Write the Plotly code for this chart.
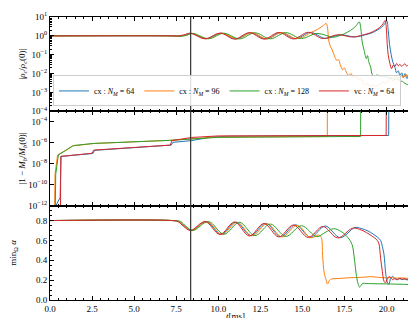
import plotly.graph_objects as go
from plotly.subplots import make_subplots

# ---------------- data ----------------
series_names = [
    "cx : <i>N</i><sub><i>M</i></sub> = 64",
    "cx : <i>N</i><sub><i>M</i></sub> = 96",
    "cx : <i>N</i><sub><i>M</i></sub> = 128",
    "vc : <i>N</i><sub><i>M</i></sub> = 64",
]
series_colors = ["#1f77b4", "#ff7f0e", "#2ca02c", "#d62728"]

t_marker = 8.36  # ms, vertical reference line
x_title = "<i>t</i>[ms]"

# |rho_c / rho_c(0)|
t_rho_cx64 = [0, 7.25, 7.65, 8.0, 8.4, 9.28, 10.17, 11.05, 11.94, 12.82, 13.71, 14.59, 15.48, 16.36, 17.25, 18.13, 18.7, 19.1, 19.45, 19.7, 19.9, 20.02, 20.1, 20.18, 20.28, 20.38, 20.5, 20.6, 20.7, 20.8, 20.9, 21.0, 21.1, 21.2, 21.3, 21.4, 21.5, 21.6, 21.7, 21.8, 21.9, 22.0]
rho_cx64 = [1.0, 1.0, 0.98, 1.1, 1.37, 0.70, 1.40, 0.68, 1.47, 0.69, 1.50, 0.70, 1.53, 0.73, 1.14, 0.88, 1.12, 1.41, 2.0, 2.82, 4.47, 6.3, 2.0, 0.355, 0.1, 0.04, 0.022, 0.011, 0.014, 0.0079, 0.011, 0.0063, 0.01, 0.0056, 0.0089, 0.005, 0.0079, 0.01, 0.0056, 0.0079, 0.005, 0.0071]

t_rho_cx96 = [0, 7.3, 7.7, 8.05, 8.45, 9.34, 10.23, 11.12, 12.01, 12.9, 13.79, 14.68, 15.57, 15.9, 16.2, 16.42, 16.5, 16.56, 16.65, 16.75, 16.85, 16.95, 17.05, 17.15, 17.25, 17.4, 17.5, 17.6, 17.75, 17.9, 18.0, 18.15, 18.3, 18.45, 18.6, 18.75, 18.9, 19.05, 19.2, 19.35, 19.5, 19.65, 19.8, 19.95, 20.1, 20.25, 20.4, 20.55, 20.7, 20.85, 21.0, 21.15, 21.3, 21.45, 21.6, 21.75, 21.9, 22.0]
rho_cx96 = [1.0, 1.0, 0.96, 1.08, 1.36, 0.70, 1.40, 0.69, 1.46, 0.69, 1.49, 0.71, 1.6, 2.2, 3.3, 4.5, 2.5, 0.6, 0.3, 0.2, 0.12, 0.07, 0.05, 0.055, 0.03, 0.016, 0.02, 0.0126, 0.008, 0.01, 0.0063, 0.008, 0.005, 0.0056, 0.0035, 0.0025, 0.0028, 0.0021, 0.0025, 0.002, 0.0024, 0.0028, 0.0035, 0.0031, 0.0045, 0.006, 0.004, 0.0075, 0.005, 0.0085, 0.006, 0.0095, 0.005, 0.007, 0.0032, 0.0025, 0.0018, 0.0014]

t_rho_cx128 = [0, 7.35, 7.75, 8.1, 8.5, 9.42, 10.34, 11.26, 12.18, 13.1, 14.02, 14.94, 15.86, 16.85, 17.3, 17.7, 18.0, 18.2, 18.38, 18.47, 18.55, 18.67, 18.8, 18.87, 18.95, 19.06, 19.15, 19.3, 19.45, 19.6, 19.75, 19.9, 20.05, 20.2, 20.35, 20.5, 20.65, 20.8, 20.95, 21.1, 21.25, 21.4, 21.55, 21.7, 21.85, 22.0]
rho_cx128 = [1.0, 1.0, 0.95, 1.06, 1.35, 0.70, 1.39, 0.69, 1.45, 0.70, 1.48, 0.72, 1.35, 0.85, 1.1, 1.6, 2.4, 3.5, 5.5, 2.5, 0.5, 0.17, 0.063, 0.09, 0.04, 0.022, 0.009, 0.0075, 0.0085, 0.007, 0.0078, 0.0065, 0.0068, 0.0058, 0.006, 0.005, 0.0052, 0.0042, 0.0038, 0.003, 0.0026, 0.002, 0.0019, 0.0015, 0.0013, 0.0011]

t_rho_vc64 = [0, 7.2, 7.6, 7.95, 8.35, 9.22, 10.1, 10.97, 11.85, 12.72, 13.6, 14.47, 15.35, 16.22, 17.1, 17.97, 18.6, 19.0, 19.35, 19.6, 19.8, 19.92, 19.98, 20.04, 20.1, 20.2, 20.3, 20.4, 20.5, 20.6, 20.7, 20.8, 20.9, 21.0, 21.1, 21.2, 21.3, 21.4, 21.5, 21.6, 21.7, 21.8, 21.9, 22.0]
rho_vc64 = [1.0, 1.0, 0.99, 1.12, 1.38, 0.69, 1.41, 0.68, 1.48, 0.68, 1.51, 0.69, 1.55, 0.72, 1.15, 0.87, 1.12, 1.41, 2.0, 2.82, 4.47, 6.6, 3.16, 0.40, 0.1, 0.035, 0.018, 0.028, 0.024, 0.034, 0.026, 0.031, 0.024, 0.029, 0.033, 0.025, 0.030, 0.027, 0.032, 0.024, 0.029, 0.026, 0.031, 0.027]

# |1 - M_b / M_b(0)|
t_mb_cx64 = [0, 0.3, 0.35, 0.6, 0.66, 1.0, 2.0, 2.55, 2.65, 4.0, 6.0, 7.2, 7.3, 8.4, 9.5, 10.5, 15.0, 20.13, 20.14, 22.0]
mb_cx64 = [1e-14, 1e-14, 1e-12, 6e-12, 5e-8, 5.6e-8, 7.5e-8, 9.5e-8, 1.9e-7, 2.7e-7, 4.3e-7, 6e-7, 1.1e-6, 1.6e-6, 3.3e-6, 4.2e-6, 4.7e-6, 5e-6, 1.0, 1.0]

t_mb_cx96 = [0, 0.26, 0.3, 0.45, 0.85, 1.35, 2.6, 7.1, 10.0, 16.48, 16.49, 22.0]
mb_cx96 = [1e-14, 1e-14, 1e-9, 7e-8, 1.6e-7, 5e-7, 8.5e-7, 1.7e-6, 3.5e-6, 4e-6, 1.0, 1.0]

t_mb_cx128 = [0, 0.3, 0.34, 0.5, 0.9, 1.4, 2.6, 7.1, 10.0, 18.46, 18.47, 22.0]
mb_cx128 = [1e-14, 1e-14, 1e-9, 7e-8, 1.7e-7, 5.5e-7, 8.7e-7, 1.7e-6, 3.3e-6, 4e-6, 1.0, 1.0]

t_mb_vc64 = [0, 0.62, 0.64, 1.0, 2.0, 2.5, 2.6, 4.0, 6.0, 7.15, 7.25, 8.4, 10.0, 14.0, 19.98, 19.99, 22.0]
mb_vc64 = [1e-14, 1e-14, 5e-8, 5.6e-8, 7.9e-8, 1e-7, 2e-7, 2.8e-7, 4.5e-7, 6e-7, 1.6e-6, 3.2e-6, 4.5e-6, 4.8e-6, 5e-6, 1.0, 1.0]

# min_Omega alpha
t_alpha_cx64 = [0, 7.25, 7.65, 8.0, 8.4, 9.28, 10.17, 11.05, 11.94, 12.82, 13.71, 14.59, 15.48, 16.36, 17.25, 18.13, 18.5, 18.9, 19.2, 19.45, 19.65, 19.75, 19.85, 19.95, 20.05, 20.14, 20.25, 20.35, 20.45, 20.6, 20.75, 20.9, 21.05, 21.2, 21.35, 21.5, 21.65, 21.8, 22.0]
alpha_cx64 = [0.8, 0.8, 0.79, 0.74, 0.70, 0.79, 0.662, 0.785, 0.648, 0.772, 0.637, 0.758, 0.632, 0.745, 0.628, 0.73, 0.72, 0.695, 0.665, 0.635, 0.60, 0.54, 0.46, 0.27, 0.18, 0.158, 0.22, 0.238, 0.225, 0.205, 0.216, 0.206, 0.213, 0.204, 0.215, 0.206, 0.211, 0.203, 0.209]

t_alpha_cx96 = [0, 7.3, 7.7, 8.05, 8.45, 9.34, 10.23, 11.12, 12.01, 12.9, 13.79, 14.68, 15.5, 15.95, 16.12, 16.2, 16.3, 16.4, 16.5, 16.6, 16.75, 17.0, 17.3, 17.6, 17.9, 18.2, 18.5, 18.8, 19.1, 19.4, 19.7, 20.0, 20.3, 20.6, 20.9, 21.2, 21.5, 21.8, 22.0]
alpha_cx96 = [0.8, 0.8, 0.79, 0.74, 0.70, 0.79, 0.66, 0.783, 0.645, 0.768, 0.635, 0.752, 0.626, 0.655, 0.63, 0.45, 0.27, 0.21, 0.16, 0.195, 0.213, 0.215, 0.218, 0.222, 0.225, 0.226, 0.228, 0.232, 0.235, 0.23, 0.226, 0.222, 0.225, 0.22, 0.223, 0.218, 0.222, 0.217, 0.22]

t_alpha_cx128 = [0, 7.35, 7.75, 8.1, 8.5, 9.42, 10.34, 11.26, 12.18, 13.1, 14.02, 14.94, 15.86, 16.35, 16.85, 17.3, 17.7, 17.95, 18.1, 18.2, 18.3, 18.4, 18.5, 18.6, 18.8, 19.2, 19.6, 20.0, 20.5, 21.0, 21.5, 22.0]
alpha_cx128 = [0.8, 0.8, 0.79, 0.74, 0.70, 0.79, 0.662, 0.783, 0.648, 0.765, 0.64, 0.748, 0.638, 0.68, 0.718, 0.69, 0.63, 0.56, 0.40, 0.26, 0.17, 0.13, 0.15, 0.168, 0.166, 0.164, 0.163, 0.162, 0.16, 0.158, 0.155, 0.152]

t_alpha_vc64 = [0, 7.2, 7.6, 7.95, 8.35, 9.22, 10.1, 10.97, 11.85, 12.72, 13.6, 14.47, 15.35, 16.22, 17.1, 17.97, 18.4, 18.8, 19.1, 19.3, 19.45, 19.55, 19.65, 19.75, 19.85, 19.94, 20.05, 20.15, 20.25, 20.35, 20.5, 20.65, 20.8, 20.95, 21.1, 21.25, 21.4, 21.55, 21.7, 21.85, 22.0]
alpha_vc64 = [0.8, 0.8, 0.79, 0.74, 0.70, 0.79, 0.66, 0.785, 0.645, 0.77, 0.635, 0.755, 0.63, 0.74, 0.625, 0.722, 0.712, 0.68, 0.648, 0.625, 0.60, 0.565, 0.42, 0.29, 0.19, 0.172, 0.215, 0.235, 0.228, 0.205, 0.215, 0.205, 0.218, 0.208, 0.214, 0.203, 0.215, 0.207, 0.212, 0.204, 0.21]

# tick labels
rho_tickvals = [10, 1, 0.1, 0.01, 0.001, 0.0001]
rho_ticktext = ["10<sup>1</sup>", "10<sup>0</sup>", "10<sup>−1</sup>", "10<sup>−2</sup>", "10<sup>−3</sup>", "10<sup>−4</sup>"]
mb_tickvals = [1e-4, 1e-6, 1e-8, 1e-10, 1e-12]
mb_ticktext = ["10<sup>−4</sup>", "10<sup>−6</sup>", "10<sup>−8</sup>", "10<sup>−10</sup>", "10<sup>−12</sup>"]

rho_data = [(t_rho_cx64, rho_cx64), (t_rho_cx96, rho_cx96), (t_rho_cx128, rho_cx128), (t_rho_vc64, rho_vc64)]
mb_data = [(t_mb_cx64, mb_cx64), (t_mb_cx96, mb_cx96), (t_mb_cx128, mb_cx128), (t_mb_vc64, mb_vc64)]
alpha_data = [(t_alpha_cx64, alpha_cx64), (t_alpha_cx96, alpha_cx96), (t_alpha_cx128, alpha_cx128), (t_alpha_vc64, alpha_vc64)]

# ---------------- figure ----------------
FONT = "Liberation Serif"
fig = make_subplots(rows=3, cols=1, shared_xaxes=True, vertical_spacing=0)

for i, name in enumerate(series_names):
    c = series_colors[i]
    fig.add_trace(go.Scatter(x=rho_data[i][0], y=rho_data[i][1], mode="lines", name=name,
                             showlegend=True,
                             line=dict(color=c, width=1, shape="spline", smoothing=1.0)), row=1, col=1)
    fig.add_trace(go.Scatter(x=mb_data[i][0], y=mb_data[i][1], mode="lines", name=name,
                             showlegend=False,
                             line=dict(color=c, width=1)), row=2, col=1)
    fig.add_trace(go.Scatter(x=alpha_data[i][0], y=alpha_data[i][1], mode="lines", name=name,
                             showlegend=False,
                             line=dict(color=c, width=1, shape="spline", smoothing=1.0)), row=3, col=1)

axis_common = dict(showline=True, linecolor="black", linewidth=1, mirror="allticks",
                   ticks="inside", ticklen=4, tickcolor="black", tickwidth=0.8,
                   showgrid=False, zeroline=False, ticklabeloverflow="allow")

for r in (1, 2, 3):
    fig.update_xaxes(range=[0, 22.05], tick0=0, dtick=2.5, tickformat=".1f",
                     minor=dict(ticks="inside", ticklen=2, dtick=0.5, tickcolor="black", tickwidth=0.6),
                     row=r, col=1, **axis_common)

fig.update_yaxes(type="log", range=[-4, 1], tickmode="array", tickvals=rho_tickvals, ticktext=rho_ticktext,
                 minor=dict(ticks="inside", ticklen=2, tickmode="linear", dtick="D1", tickcolor="black", tickwidth=0.6),
                 title=dict(text="|<i>ρ</i><sub><i>c</i></sub>/<i>ρ</i><sub><i>c</i></sub>(0)|", standoff=4, font=dict(size=9)),
                 row=1, col=1, **axis_common)
fig.update_yaxes(type="log", range=[-12, -3], tickmode="array", tickvals=mb_tickvals, ticktext=mb_ticktext,
                 title=dict(text="|1 − <i>M</i><sub><i>b</i></sub>/<i>M</i><sub><i>b</i></sub>(0)|", standoff=0, font=dict(size=9)),
                 row=2, col=1, **axis_common)
fig.update_yaxes(range=[0, 0.95], tick0=0, dtick=0.2, tickformat=".1f",
                 minor=dict(ticks="inside", ticklen=2, dtick=0.05, tickcolor="black", tickwidth=0.6),
                 title=dict(text="min<sub>Ω</sub> <i>α</i>", standoff=20, font=dict(size=9)),
                 row=3, col=1, **axis_common)

fig.add_shape(type="line", xref="x", yref="paper", x0=t_marker, x1=t_marker, y0=0, y1=1,
              line=dict(color="#333333", width=1.2), layer="above")

fig.add_annotation(text=x_title, xref="paper", yref="paper", x=0.5, y=0, xanchor="center", yanchor="top",
                   yshift=-9, showarrow=False, font=dict(size=9))

fig.update_layout(
    width=416, height=318,
    margin=dict(l=38, r=2, t=3, b=26),
    paper_bgcolor="white", plot_bgcolor="white",
    font=dict(family=FONT, size=9, color="black"),
    legend=dict(orientation="h", x=0.008, y=0.684, xanchor="left", yanchor="bottom",
                bgcolor="rgba(255,255,255,0.85)", bordercolor="#cccccc", borderwidth=1,
                font=dict(size=8), itemwidth=30),
)

fig.write_html("out.html")
